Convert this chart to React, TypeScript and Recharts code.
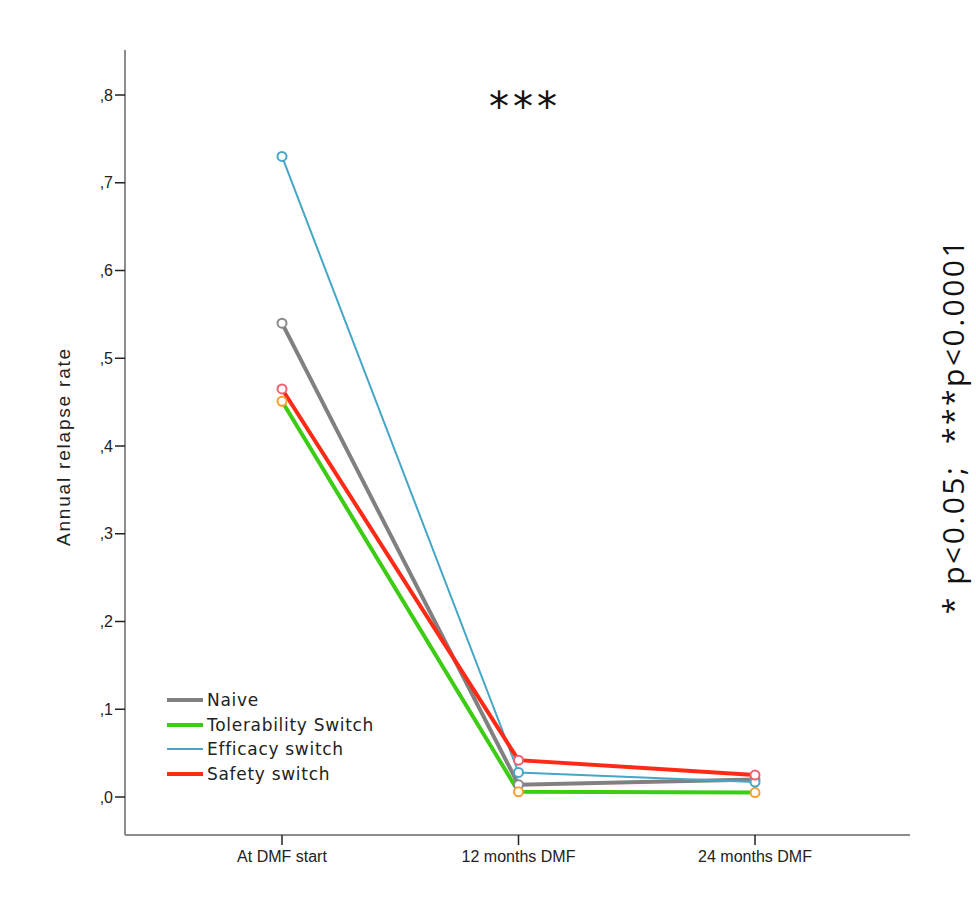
import React from 'react';
import { LineChart, Line, XAxis, YAxis } from 'recharts';

const timepoints = ['At DMF start', '12 months DMF', '24 months DMF'];
const naive = [0.54, 0.014, 0.02];
const tolerability = [0.451, 0.006, 0.005];
const efficacy = [0.73, 0.028, 0.017];
const safety = [0.465, 0.042, 0.025];
const yTicks = [0, 0.1, 0.2, 0.3, 0.4, 0.5, 0.6, 0.7, 0.8];

const data = timepoints.map((t, i) => ({
  time: t,
  naive: naive[i],
  tolerability: tolerability[i],
  efficacy: efficacy[i],
  safety: safety[i],
}));

const series = [
  { key: 'naive', name: 'Naive', color: '#808080', width: 4, marker: '#8a8a8a' },
  { key: 'tolerability', name: 'Tolerability Switch', color: '#3ccc14', width: 4, marker: '#f5a030' },
  { key: 'efficacy', name: 'Efficacy switch', color: '#46a6c8', width: 2, marker: '#46a6c8' },
  { key: 'safety', name: 'Safety switch', color: '#ff2a16', width: 4, marker: '#f06070' },
];

const font = '"Liberation Sans", Arial, sans-serif';

// legend drawn as a plain overlay so it doesn't eat plot space
const LegendBox = () => (
  <div style={{ position: 'absolute', left: 167, top: 688, fontFamily: '"DejaVu Sans", sans-serif', fontSize: 17, letterSpacing: 0.7, color: '#222' }}>
    {series.map((s) => (
      <div key={s.key} style={{ display: 'flex', alignItems: 'center', height: 24.5 }}>
        <span style={{ display: 'inline-block', width: 36, height: s.key === 'efficacy' ? 2 : 4, background: s.color, marginRight: 4 }} />
        <span>{s.name}</span>
      </div>
    ))}
  </div>
);

export default function App() {
  return (
    <div style={{ position: 'absolute', left: 0, top: 0, width: 976, height: 915, background: '#fff', overflow: 'hidden' }}>
      <LineChart
        width={976}
        height={915}
        data={data}
        margin={{ top: 50, right: 66, left: 65, bottom: 50 }}
      >
        <XAxis
          dataKey="time"
          padding={{ left: 157, right: 155 }}
          height={30}
          axisLine={{ stroke: '#8c8c8c', strokeWidth: 2 }}
          tickLine={{ stroke: '#222', strokeWidth: 1.5 }}
          tickSize={10}
          tick={{ fill: '#222', fontSize: 16, fontFamily: font, dy: 4 }}
        />
        <YAxis
          width={60}
          type="number"
          domain={[-0.0433, 0.8513]}
          ticks={yTicks}
          allowDataOverflow
          tickFormatter={(v: number) => ',' + Math.round(v * 10)}
          axisLine={{ stroke: '#8c8c8c', strokeWidth: 2 }}
          tickLine={{ stroke: '#222', strokeWidth: 1.5 }}
          tickSize={10}
          tick={{ fill: '#222', fontSize: 16, fontFamily: font }}
          label={{
            value: 'Annual relapse rate',
            angle: -90,
            position: 'insideLeft',
            offset: 0,
            dx: -2,
            dy: 4,
            style: { textAnchor: 'middle', fontSize: 19, letterSpacing: 1.8, fontFamily: font, fill: '#222' },
          }}
        />
        {series.map((s) => (
          <Line
            key={s.key}
            dataKey={s.key}
            name={s.name}
            stroke={s.color}
            strokeWidth={s.width}
            dot={{ r: 4.5, fill: '#fff', stroke: s.marker, strokeWidth: 2 }}
            activeDot={false}
            isAnimationActive={false}
          />
        ))}
      </LineChart>
      <LegendBox />
      <div style={{ position: 'absolute', left: 489, top: 87, fontFamily: '"DejaVu Sans", sans-serif', fontSize: 40, letterSpacing: 4, color: '#111', lineHeight: 1 }}>
        ***
      </div>
      <div
        style={{
          position: 'absolute',
          left: 953,
          top: 426,
          transform: 'translate(-50%, -50%) rotate(-90deg)',
          whiteSpace: 'nowrap',
          fontFamily: '"Open Sans", sans-serif',
          fontSize: 30,
          letterSpacing: 2.5,
          lineHeight: 1,
          color: '#111',
        }}
      >
        * p&lt;0.05;&nbsp; ***p&lt;0.0001
      </div>
    </div>
  );
}
